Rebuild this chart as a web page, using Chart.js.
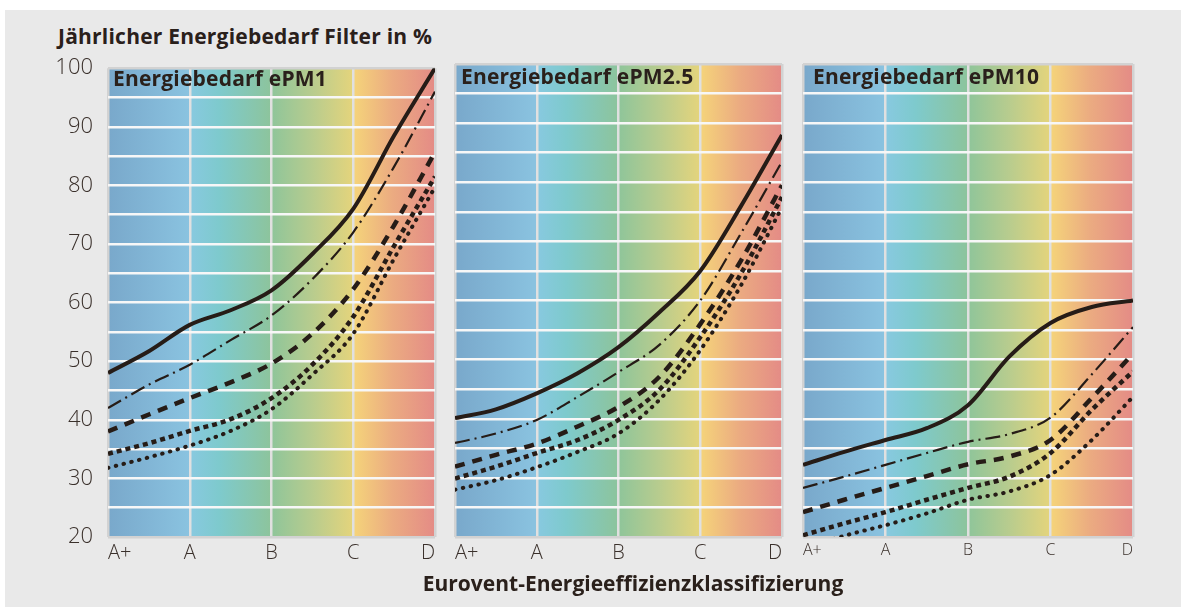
<!DOCTYPE html>
<html>
<head>
<meta charset="utf-8">
<script src="https://cdn.jsdelivr.net/npm/chart.js@4.4.1/dist/chart.umd.min.js"></script>
<style>
  html, body { margin:0; padding:0; background:#ffffff; }
  body { width:1186px; height:607px; position:relative; overflow:hidden; font-family:'Open Sans',sans-serif; }
  #bg { position:absolute; left:5px; top:10px; width:1176px; height:597px; background:#e9e9e9; }
  .box { position:absolute; }
  .txt { position:absolute; white-space:nowrap; color:#2a201b; font-weight:700; line-height:1; font-family:'Open Sans',sans-serif; }
</style>
</head>
<body>
<div id="bg"></div>
<div class="txt" id="mainTitle" style="left:58px; top:26px; font-size:21px; letter-spacing:0.22px;">Jährlicher Energiebedarf Filter in %</div>
<div class="box" style="left:0px; top:40px; width:445px; height:540px;"><canvas id="c1" width="445" height="540"></canvas></div>
<div class="box" style="left:445px; top:40px; width:347px; height:540px;"><canvas id="c2" width="347" height="540"></canvas></div>
<div class="box" style="left:793px; top:40px; width:350px; height:540px;"><canvas id="c3" width="350" height="540"></canvas></div>
<div class="txt" style="left:113px; top:68px; font-size:21px; letter-spacing:0.2px;">Energiebedarf ePM1</div>
<div class="txt" style="left:461px; top:66px; font-size:21px; letter-spacing:0.2px;">Energiebedarf ePM2.5</div>
<div class="txt" style="left:813px; top:66px; font-size:21px; letter-spacing:0.2px;">Energiebedarf ePM10</div>
<div class="txt" id="xTitle" style="left:633px; top:573px; font-size:21px; transform:translateX(-50%);">Eurovent-Energieeffizienzklassifizierung</div>
<script>
// ---- data ----
const categories = ['A+', 'A', 'B', 'C', 'D'];
const xPositions = [0, 0.5, 1, 1.5, 2, 2.5, 3, 3.5, 4];
const yLabelValues = [20, 30, 40, 50, 60, 70, 80, 90, 100];

const ePM1_solid    = [48.0, 51.7, 56.2, 58.7, 62.1, 68.3, 76.0, 88.5, 100.0];
const ePM1_dashDot  = [42.0, 46.0, 49.4, 53.6, 57.8, 64.0, 72.0, 83.2, 96.0];
const ePM1_dashed   = [38.0, 40.9, 43.7, 46.4, 49.6, 54.7, 62.3, 73.2, 85.7];
const ePM1_square   = [34.2, 36.0, 38.1, 40.1, 43.7, 49.4, 57.6, 69.7, 81.5];
const ePM1_round    = [31.8, 33.6, 35.6, 38.1, 41.8, 47.7, 54.7, 67.5, 79.7];

const ePM25_solid   = [40.1, 41.6, 44.3, 47.7, 52.1, 58.0, 65.0, 76.0, 88.0];
const ePM25_dashDot = [35.9, 37.5, 39.8, 43.7, 47.9, 52.5, 60.0, 71.4, 83.5];
const ePM25_dashed  = [31.9, 33.9, 35.8, 38.7, 42.0, 47.1, 56.0, 66.8, 79.5];
const ePM25_square  = [29.9, 31.9, 34.2, 36.4, 39.8, 44.9, 53.8, 64.6, 77.5];
const ePM25_round   = [28.0, 29.6, 31.8, 34.4, 37.5, 43.2, 51.6, 62.6, 75.8];

const ePM10_solid   = [32.2, 34.4, 36.4, 38.4, 42.3, 50.5, 56.2, 58.9, 60.0];
const ePM10_dashDot = [28.3, 30.2, 32.2, 34.2, 36.1, 37.4, 40.2, 47.5, 55.5];
const ePM10_dashed  = [24.2, 26.3, 28.3, 30.3, 32.3, 33.6, 36.4, 43.5, 51.0];
const ePM10_square  = [20.3, 22.3, 24.2, 26.3, 28.3, 30.2, 34.2, 41.5, 48.0];
const ePM10_round   = [18.0, 20.2, 22.0, 24.0, 26.3, 27.7, 30.5, 36.4, 43.7];

// ---- styles ----
const INK = '#261c17';
const lineStyles = [
  { borderWidth: 4,   borderDash: [],            borderCapStyle: 'butt'  },
  { borderWidth: 2.2, borderDash: [15, 5, 2, 5], borderCapStyle: 'butt'  },
  { borderWidth: 4.5, borderDash: [10, 8],       borderCapStyle: 'butt'  },
  { borderWidth: 4.5, borderDash: [5, 4],        borderCapStyle: 'butt'  },
  { borderWidth: 4,   borderDash: [0.5, 7.5],    borderCapStyle: 'round' }
];

const bgGradient = {
  id: 'bgGradient',
  beforeDraw(chart) {
    const { ctx, chartArea: a } = chart;
    const g = ctx.createLinearGradient(a.left, 0, a.right, 0);
    g.addColorStop(0.000, '#79a8cb');
    g.addColorStop(0.249, '#8ac3e0');
    g.addColorStop(0.251, '#88c9e0');
    g.addColorStop(0.340, '#7ecacd');
    g.addColorStop(0.499, '#8dc49c');
    g.addColorStop(0.501, '#8fc59a');
    g.addColorStop(0.625, '#b8cc8e');
    g.addColorStop(0.749, '#e4d47c');
    g.addColorStop(0.751, '#f5d47a');
    g.addColorStop(0.870, '#ebab81');
    g.addColorStop(1.000, '#e48b86');
    ctx.save();
    ctx.fillStyle = g;
    ctx.fillRect(a.left, a.top, a.right - a.left, a.bottom - a.top);
    ctx.restore();
  }
};

function makeChart(id, series, opts) {
  const datasets = series.map((vals, i) => Object.assign({
    data: vals.map((v, k) => ({ x: xPositions[k], y: v })),
    borderColor: INK,
    pointRadius: 0,
    fill: false,
    cubicInterpolationMode: 'monotone',
    borderJoinStyle: 'round'
  }, lineStyles[i]));

  return new Chart(document.getElementById(id), {
    type: 'line',
    data: { datasets },
    plugins: [bgGradient],
    options: {
      responsive: false,
      animation: false,
      events: [],
      layout: { padding: { top: 24, left: opts.padLeft, right: 10, bottom: 0 } },
      plugins: { legend: { display: false }, tooltip: { enabled: false } },
      scales: {
        x: {
          type: 'linear', min: 0, max: 4,
          afterFit: s => { s.height = 43; },
          ticks: {
            stepSize: 1, autoSkip: false, align: 'inner', padding: 4,
            color: '#3a302b',
            font: { family: "'Open Sans', sans-serif", size: opts.xFont, weight: '300' },
            callback: v => categories[v] ?? ''
          },
          grid: {
            drawTicks: false, lineWidth: 2.5,
            color: c => (c.tick && (c.tick.value === 0 || c.tick.value === 4)) ? '#d2d2d2' : '#e0e0e0'
          },
          border: { display: false }
        },
        y: {
          min: 20, max: 100,
          afterFit: s => { s.width = opts.yWidth; },
          ticks: {
            display: opts.showY, stepSize: 5, autoSkip: false, padding: 15,
            color: '#3a302b',
            font: { family: "'Open Sans', sans-serif", size: 22, weight: '300' },
            callback: v => yLabelValues.includes(v) ? String(v) : ''
          },
          grid: {
            drawTicks: false, lineWidth: 2.5,
            color: c => (c.tick && (c.tick.value === 20 || c.tick.value === 100)) ? '#d2d2d2' : '#f7f7f7'
          },
          border: { display: false }
        }
      }
    }
  });
}

makeChart('c1', [ePM1_solid, ePM1_dashDot, ePM1_dashed, ePM1_square, ePM1_round],
  { padLeft: 0, yWidth: 108, showY: true, xFont: 20 });
makeChart('c2', [ePM25_solid, ePM25_dashDot, ePM25_dashed, ePM25_square, ePM25_round],
  { padLeft: 10, yWidth: 0, showY: false, xFont: 20 });
makeChart('c3', [ePM10_solid, ePM10_dashDot, ePM10_dashed, ePM10_square, ePM10_round],
  { padLeft: 10, yWidth: 0, showY: false, xFont: 16 });
</script>
</body>
</html>
